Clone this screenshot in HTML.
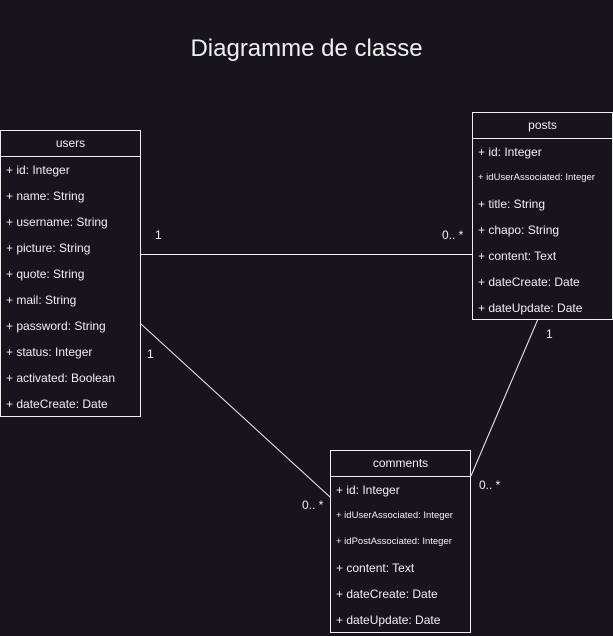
<!DOCTYPE html>
<html><head><meta charset="utf-8"><style>
html,body{margin:0;padding:0;}
body{width:613px;height:636px;background:#18141d;position:relative;overflow:hidden;font-family:"Liberation Sans",Arial,sans-serif;color:#f0f0f0;}
.box{position:absolute;border:1px solid #f0f0f0;box-sizing:border-box;background:#18141d;}
.hd{height:26px;border-bottom:1px solid #f0f0f0;box-sizing:border-box;text-align:center;line-height:25px;font-size:12px;}
.r{height:26px;line-height:26px;font-size:12px;padding-left:5px;white-space:nowrap;}
.s{font-size:9.5px;}
.t{position:absolute;font-size:12px;}
</style></head><body>
<svg width="613" height="636" style="position:absolute;left:0;top:0">
<line x1="140" y1="254.5" x2="472" y2="254.5" stroke="#f0f0f0" stroke-width="1"/>
<line x1="141" y1="324" x2="330" y2="497" stroke="#f0f0f0" stroke-width="1"/>
<line x1="538" y1="319" x2="471" y2="476" stroke="#f0f0f0" stroke-width="1"/>
</svg>
<div class="t" style="left:0;width:613px;top:35px;text-align:center;font-size:24px;">Diagramme de classe</div>
<div class="box" style="left:0;top:130px;width:141px;height:287px;">
<div class="hd">users</div>
<div class="r">+ id: Integer</div><div class="r">+ name: String</div><div class="r">+ username: String</div><div class="r">+ picture: String</div><div class="r">+ quote: String</div><div class="r">+ mail: String</div><div class="r">+ password: String</div><div class="r">+ status: Integer</div><div class="r">+ activated: Boolean</div><div class="r">+ dateCreate: Date</div>
</div>
<div class="box" style="left:472px;top:112px;width:141px;height:208px;">
<div class="hd">posts</div>
<div class="r">+ id: Integer</div><div class="r s">+ idUserAssociated: Integer</div><div class="r">+ title: String</div><div class="r">+ chapo: String</div><div class="r">+ content: Text</div><div class="r">+ dateCreate: Date</div><div class="r">+ dateUpdate: Date</div>
</div>
<div class="box" style="left:330px;top:450px;width:141px;height:183px;">
<div class="hd">comments</div>
<div class="r">+ id: Integer</div><div class="r s">+ idUserAssociated: Integer</div><div class="r s">+ idPostAssociated: Integer</div><div class="r">+ content: Text</div><div class="r">+ dateCreate: Date</div><div class="r">+ dateUpdate: Date</div>
</div>
<div class="t" style="left:155px;top:228px;">1</div>
<div class="t" style="left:442px;top:228px;">0.. *</div>
<div class="t" style="left:147px;top:347px;">1</div>
<div class="t" style="left:302px;top:498px;">0.. *</div>
<div class="t" style="left:546px;top:327px;">1</div>
<div class="t" style="left:479px;top:478px;">0.. *</div>
</body></html>
